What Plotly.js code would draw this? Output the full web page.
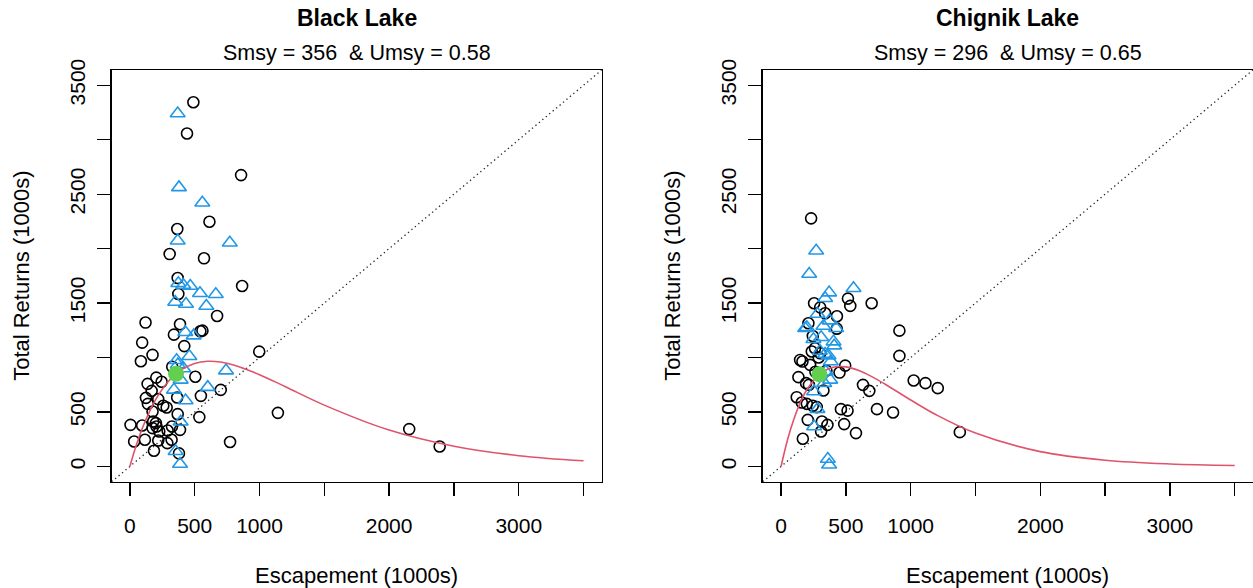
<!DOCTYPE html>
<html>
<head>
<meta charset="utf-8">
<script src="https://cdn.plot.ly/plotly-3.0.1.min.js"></script>
<style>html,body{margin:0;padding:0;background:#fff;}#chart{width:1253px;height:588px;}</style>
</head>
<body>
<div id="chart"></div>
<script>
// ---------- Black Lake ----------
const blackTitle = "Black Lake";
const blackSub = "Smsy = 356  & Umsy = 0.58";
const blackCircS = [490,441,858,614,366,307,572,369,374,866,673,121,387,340,544,560,95,420,175,85,998,327,505,204,245,137,701,168,124,365,548,139,258,284,175,369,536,1142,5,95,180,201,206,175,227,291,325,387,33,116,219,289,322,186,773,379,2155,2390,219];
const blackCircR = [3344,3057,2675,2247,2180,1950,1911,1730,1584,1657,1382,1321,1306,1210,1241,1247,1137,1105,1024,966,1054,915,824,816,778,758,703,694,630,633,648,575,557,541,504,480,453,492,382,376,413,398,367,352,321,330,367,336,229,245,238,214,245,144,224,120,343,183,618];
const blackTriS = [369,379,559,369,771,374,412,466,541,663,350,433,590,428,492,459,361,370,413,742,392,601,340,430,392,353,387];
const blackTriR = [3240,2562,2421,2072,2054,1682,1666,1657,1590,1581,1510,1492,1473,1232,1201,1012,975,935,900,880,795,728,703,605,410,140,22];
const blackCurveS = [0,50,100,200,300,400,500,600,700,800,1000,1200,1500,2000,2500,3000,3500];
const blackCurveR = [0,196,362,615,785,890,946,966,959,932,843,732,563,334,186,99,52];
const blackSmsy = [356];
const blackRmsy = [850];

// ---------- Chignik Lake ----------
const chigTitle = "Chignik Lake";
const chigSub = "Smsy = 296  & Umsy = 0.65";
const chigCircS = [232,516,534,699,255,302,340,431,211,245,913,237,302,913,147,165,224,495,451,134,193,215,327,632,681,1023,1114,1209,121,160,199,245,276,462,513,740,864,206,315,358,487,309,578,168,1379,262,290,350,265,430];
const chigCircR = [2278,1541,1474,1498,1498,1461,1406,1379,1315,1198,1247,1055,1040,1015,978,963,933,926,862,820,765,749,697,749,694,789,765,719,636,587,575,557,545,526,513,526,495,428,413,382,389,321,306,254,315,1085,1000,880,870,1265];
const chigTriS = [271,217,371,559,340,281,374,199,186,327,425,309,250,405,410,340,366,300,384,345,379,333,255,281,255,361,371];
const chigTriR = [1981,1767,1596,1636,1544,1400,1339,1278,1269,1290,1269,1186,1168,1146,1109,1033,1018,1060,963,870,795,765,688,526,367,68,16];
const chigCurveS = [0,50,100,150,200,300,400,500,600,700,800,1000,1200,1500,2000,2500,3000,3500];
const chigCurveR = [0,245,439,591,706,850,910,914,881,825,757,610,472,306,136,57,23,9];
const chigSmsy = [296];
const chigRmsy = [846];

// ---------- axes ----------
const tickVals = [0,500,1000,1500,2000,2500,3000,3500];
const xTickText = ["0","500","1000","","2000","","3000",""];
const yTickText = ["0","500","","1500","","2500","","3500"];
const axisRange = [-140,3640];
const diagS = [-140,3640];
const xTitle = "Escapement (1000s)";
const yTitle = "Total Returns (1000s)";

const FONT = "Liberation Sans, Arial, Helvetica, sans-serif";
const BLUE = "#2297E6", RED = "#DF536B", GREEN = "#61D04F";

function panel(xa, ya, cS, cR, tS, tR, kS, kR, sS, sR) {
  return [
    {x: diagS, y: diagS, xaxis: xa, yaxis: ya, mode: "lines", type: "scatter",
     line: {color: "#222", width: 1.3, dash: "1.3px,3.2px"}, hoverinfo: "skip"},
    {x: cS, y: cR, xaxis: xa, yaxis: ya, mode: "markers", type: "scatter",
     marker: {symbol: "circle-open", size: 11, color: "#000", line: {width: 1.6, color: "#000"}}},
    {x: tS, y: tR, xaxis: xa, yaxis: ya, mode: "markers", type: "scatter",
     marker: {symbol: "triangle-up-open", size: 13, color: BLUE, line: {width: 1.6, color: BLUE}}},
    {x: kS, y: kR, xaxis: xa, yaxis: ya, mode: "lines", type: "scatter",
     line: {color: RED, width: 1.6, shape: "spline"}},
    {x: sS, y: sR, xaxis: xa, yaxis: ya, mode: "markers", type: "scatter",
     marker: {symbol: "circle", size: 16, color: GREEN}}
  ];
}

const data = [].concat(
  panel("x", "y", blackCircS, blackCircR, blackTriS, blackTriR, blackCurveS, blackCurveR, blackSmsy, blackRmsy),
  panel("x2", "y2", chigCircS, chigCircR, chigTriS, chigTriR, chigCurveS, chigCurveR, chigSmsy, chigRmsy)
);

function xaxis(dom, anchor) {
  return {domain: dom, anchor: anchor, range: axisRange, tickvals: tickVals, ticktext: xTickText,
    ticks: "outside", ticklen: 13, tickwidth: 1.3, tickcolor: "#000",
    showline: true, mirror: true, linecolor: "#000", linewidth: 1.5,
    showgrid: false, zeroline: false, ticklabelstandoff: 12,
    tickfont: {family: FONT, size: 21, color: "#000"}};
}
function yaxis(dom, anchor) {
  return {domain: dom, anchor: anchor, range: axisRange, tickvals: tickVals, ticktext: yTickText,
    ticks: "outside", ticklen: 13, tickwidth: 1.3, tickcolor: "#000", tickangle: -90,
    showline: true, mirror: true, linecolor: "#000", linewidth: 1.5,
    showgrid: false, zeroline: false, ticklabelstandoff: 4,
    tickfont: {family: FONT, size: 21, color: "#000"}};
}

const yDom = [0.18078, 0.88095];
const x1Dom = [0.08915, 0.48021];
const x2Dom = [0.60886, 0.99992];

function ann(text, x, y, size, bold, angle) {
  return {text: bold ? "<b>" + text + "</b>" : text, x: x, y: y, xref: "paper", yref: "paper",
    xanchor: "center", yanchor: "middle", showarrow: false, textangle: angle || 0,
    font: {family: FONT, size: size, color: "#000"}};
}

const c1 = (x1Dom[0] + x1Dom[1]) / 2, c2 = (x2Dom[0] + x2Dom[1]) / 2;
const yc = (yDom[0] + yDom[1]) / 2;

const layout = {
  width: 1253, height: 588,
  margin: {l: 0, r: 0, t: 0, b: 0},
  paper_bgcolor: "#fff", plot_bgcolor: "#fff",
  showlegend: false,
  xaxis: xaxis(x1Dom, "y"), yaxis: yaxis(yDom, "x"),
  xaxis2: xaxis(x2Dom, "y2"), yaxis2: yaxis(yDom, "x2"),
  annotations: [
    ann(blackTitle, c1, 1 - 18/588, 23, true),
    ann(blackSub, c1, 1 - 53/588, 21.5, false),
    ann(chigTitle, c2, 1 - 18/588, 23, true),
    ann(chigSub, c2, 1 - 53/588, 21.5, false),
    ann(xTitle, c1, 1 - 575/588, 22, false),
    ann(xTitle, c2, 1 - 575/588, 22, false),
    ann(yTitle, 22/1253, yc, 22, false, -90),
    ann(yTitle, 673/1253, yc, 22, false, -90)
  ]
};

Plotly.newPlot("chart", data, layout, {staticPlot: true, displayModeBar: false});
</script>
</body>
</html>
